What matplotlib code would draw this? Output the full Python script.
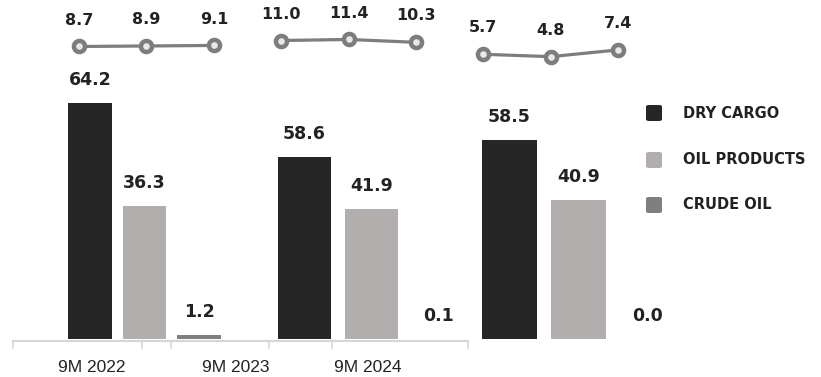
import matplotlib.pyplot as plt
from matplotlib.lines import Line2D
from matplotlib.patches import FancyBboxPatch

periods = ["9M 2022", "9M 2023", "9M 2024"]
cargo_types = ["DRY CARGO", "OIL PRODUCTS", "CRUDE OIL"]
dry_cargo = [64.2, 58.6, 58.5]
oil_products = [36.3, 41.9, 40.9]
crude_oil = [1.2, 0.1, 0.0]
monthly_line = [[8.7, 8.9, 9.1], [11.0, 11.4, 10.3], [5.7, 4.8, 7.4]]

colors = ["#262626", "#b1aead", "#7f7f7f"]
line_color = "#7d7d7d"
text_color = "#222222"

W, H = 821, 377
fig = plt.figure(figsize=(W / 100, H / 100), dpi=100)


def add_px_axes(left, top, right, bottom):
    ax = fig.add_axes([left / W, 1 - bottom / H, (right - left) / W, (bottom - top) / H])
    ax.set_axis_off()
    ax.patch.set_alpha(0)
    return ax


# each period is its own little bar chart with its own scale
group_boxes = [(62.5, 226.5), (271, 472), (475, 682)]
group_ylims = [70.7, 83.5, 76.5]
for i, (x0, x1) in enumerate(group_boxes):
    ax = add_px_axes(x0, 79, x1, 339)
    vals = [dry_cargo[i], oil_products[i], crude_oil[i]]
    bars = ax.bar(range(3), vals, width=0.8, color=colors)
    ax.set_xlim(-0.5, 2.5)
    ax.set_ylim(0, group_ylims[i])
    for b, v in zip(bars, vals):
        ax.annotate(f"{v:.1f}", (b.get_x() + b.get_width() / 2, v),
                    xytext=(0, 10), textcoords="offset points",
                    ha="center", va="bottom", fontsize=12.5, fontweight="bold",
                    color=text_color)

# line series above the bars
lax = add_px_axes(45.3, 15, 652, 75)
lax.set_xlim(-0.5, 8.5)
lax.set_ylim(-2.25, 20.8)
for i, seg in enumerate(monthly_line):
    xs = [3 * i + k for k in range(3)]
    lax.plot(xs, seg, color=line_color, lw=2.3, marker="o", ms=8,
             mfc="#e8e8e8", mec=line_color, mew=3.2, solid_capstyle="round")
    for x, v in zip(xs, seg):
        lax.annotate(f"{v:.1f}", (x, v), xytext=(0, 19), textcoords="offset points",
                     ha="center", va="center", fontsize=11.5, fontweight="bold",
                     color=text_color)

# baseline with ticks
axis_y = 1 - 341 / H
fig.add_artist(Line2D([13 / W, 468 / W], [axis_y, axis_y], color="#d6d6d6", lw=1.5))
for tx in [13, 142, 171, 269, 332, 468]:
    fig.add_artist(Line2D([tx / W, tx / W], [axis_y, 1 - 348 / H], color="#d6d6d6", lw=1.2))

for label, cx in zip(periods, [92, 236, 368]):
    fig.text(cx / W, 1 - 367 / H, label, ha="center", va="center", fontsize=12.5,
             family="Liberation Sans", color=text_color)

# legend
for name, c, cy in zip(cargo_types, colors, [113, 160, 205]):
    fig.add_artist(FancyBboxPatch((646 / W, 1 - (cy + 8) / H), 16 / W, 16 / H,
                                  boxstyle="round,pad=0,rounding_size=0.004",
                                  transform=fig.transFigure, facecolor=c, edgecolor="none"))
    fig.text(683 / W, 1 - cy / H, name, ha="left", va="center", fontsize=10.5,
             fontweight="bold", color=text_color)

fig.savefig("out.png", dpi=100)
